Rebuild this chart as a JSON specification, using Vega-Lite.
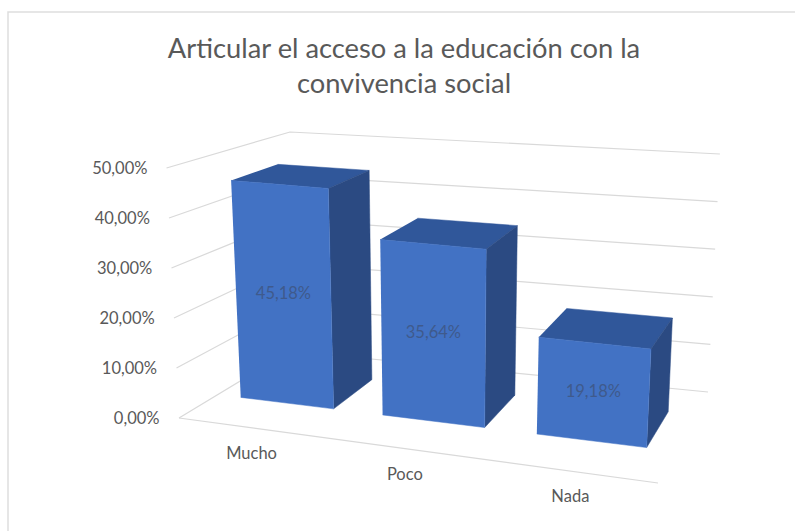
{"$schema":"https://vega.github.io/schema/vega-lite/v6.json","autosize":{"type":"none"},"padding":{"left":8,"top":12,"right":0,"bottom":0},"width":800,"height":530,"background":"white","view":{"stroke":"#DEDEDE","strokeWidth":1.5,"fill":"white"},"title":{"text":["Articular el acceso a la educación con la","convivencia social"],"font":"Lato","fontSize":27.3,"fontWeight":"normal","color":"#595959","anchor":"middle","offset":-86,"dx":-4,"lineHeight":35},"datasets":{"bars":[{"category":"Mucho","value":45.18},{"category":"Poco","value":35.64},{"category":"Nada","value":19.18}],"ticks":[{"value":0},{"value":10},{"value":20},{"value":30},{"value":40},{"value":50}]},"encoding":{"x":{"field":"px","type":"quantitative","scale":{"domain":[8,808],"nice":false,"zero":false},"axis":null},"y":{"field":"elev","type":"quantitative","scale":{"domain":[-24.8,81.2],"nice":false,"zero":false},"axis":{"title":null,"values":[0,10,20,30,40,50],"offset":-155,"labelPadding":4,"ticks":false,"domain":false,"grid":false,"labelFont":"Lato","labelFontSize":16.5,"labelColor":"#595959","labelExpr":"replace(format(datum.value,'.2f'),'.',',')+'%'","encoding":{"labels":{"dx":{"value":{"expr":"-0.24*datum.value"}}}}}}},"layer":[{"data":{"name":"ticks"},"transform":[{"calculate":"[0,0,1]","as":"vu"},{"calculate":"[0,1,1]","as":"vw"},{"calculate":"[1,1,1]","as":"vt"},{"calculate":"[0,1,2]","as":"idx"},{"flatten":["vu","vw","vt","idx"]},{"calculate":"(5+0.38*datum.vu-0.62*datum.vw)*datum.value*datum.vt","as":"H"},{"calculate":"179+479*datum.vu+datum.vw*(111-61*datum.vu)+(-0.05+0.1*datum.vu+0.05*pow(datum.vw,4)*(1-datum.vu))*datum.H","as":"px"},{"calculate":"(datum.vw*(67+24*datum.vu)-65*datum.vu+datum.H)/5","as":"elev"}],"mark":{"type":"line","stroke":"#D9D9D9","strokeWidth":1.2},"encoding":{"detail":{"field":"value"},"order":{"field":"idx"}}},{"data":{"name":"ticks"},"transform":[{"filter":"datum.value==0"},{"calculate":"[0,1]","as":"vu"},{"calculate":"[0,0]","as":"vw"},{"calculate":"[1,1]","as":"vt"},{"calculate":"[0,1]","as":"idx"},{"flatten":["vu","vw","vt","idx"]},{"calculate":"(5+0.38*datum.vu-0.62*datum.vw)*datum.value*datum.vt","as":"H"},{"calculate":"179+479*datum.vu+datum.vw*(111-61*datum.vu)+(-0.05+0.1*datum.vu+0.05*pow(datum.vw,4)*(1-datum.vu))*datum.H","as":"px"},{"calculate":"(datum.vw*(67+24*datum.vu)-65*datum.vu+datum.H)/5","as":"elev"}],"mark":{"type":"line","stroke":"#D9D9D9","strokeWidth":1.2},"encoding":{"order":{"field":"idx"}}},{"data":{"name":"bars"},"transform":[{"calculate":"indexof(['Mucho','Poco','Nada'],datum.category)","as":"i"},{"calculate":"[0.05,0.36,0.697][datum.i]","as":"u0"},{"calculate":"[0.253,0.583,0.937][datum.i]","as":"u1"},{"calculate":"[datum.u0,datum.u1,datum.u1,datum.u0]","as":"vu"},{"calculate":"[0.35,0.35,0.75,0.75]","as":"vw"},{"calculate":"[1,1,1,1]","as":"vt"},{"calculate":"[0,1,2,3]","as":"idx"},{"flatten":["vu","vw","vt","idx"]},{"calculate":"(5+0.38*datum.vu-0.62*datum.vw)*datum.value*datum.vt","as":"H"},{"calculate":"179+479*datum.vu+datum.vw*(111-61*datum.vu)+(-0.05+0.1*datum.vu+0.05*pow(datum.vw,4)*(1-datum.vu))*datum.H","as":"px"},{"calculate":"(datum.vw*(67+24*datum.vu)-65*datum.vu+datum.H)/5","as":"elev"}],"mark":{"type":"line","fill":"#30579A","stroke":"#30579A","strokeWidth":0.5},"encoding":{"detail":{"field":"category"},"order":{"field":"idx"}}},{"data":{"name":"bars"},"transform":[{"calculate":"indexof(['Mucho','Poco','Nada'],datum.category)","as":"i"},{"calculate":"[0.253,0.583,0.937][datum.i]","as":"u1"},{"calculate":"[datum.u1,datum.u1,datum.u1,datum.u1]","as":"vu"},{"calculate":"[0.35,0.75,0.75,0.35]","as":"vw"},{"calculate":"[1,1,0,0]","as":"vt"},{"calculate":"[0,1,2,3]","as":"idx"},{"flatten":["vu","vw","vt","idx"]},{"calculate":"(5+0.38*datum.vu-0.62*datum.vw)*datum.value*datum.vt","as":"H"},{"calculate":"179+479*datum.vu+datum.vw*(111-61*datum.vu)+(-0.05+0.1*datum.vu+0.05*pow(datum.vw,4)*(1-datum.vu))*datum.H","as":"px"},{"calculate":"(datum.vw*(67+24*datum.vu)-65*datum.vu+datum.H)/5","as":"elev"}],"mark":{"type":"line","fill":"#2B4A82","stroke":"#2B4A82","strokeWidth":0.5},"encoding":{"detail":{"field":"category"},"order":{"field":"idx"}}},{"data":{"name":"bars"},"transform":[{"calculate":"indexof(['Mucho','Poco','Nada'],datum.category)","as":"i"},{"calculate":"[0.05,0.36,0.697][datum.i]","as":"u0"},{"calculate":"[0.253,0.583,0.937][datum.i]","as":"u1"},{"calculate":"[datum.u0,datum.u1,datum.u1,datum.u0]","as":"vu"},{"calculate":"[0.35,0.35,0.35,0.35]","as":"vw"},{"calculate":"[1,1,0,0]","as":"vt"},{"calculate":"[0,1,2,3]","as":"idx"},{"flatten":["vu","vw","vt","idx"]},{"calculate":"(5+0.38*datum.vu-0.62*datum.vw)*datum.value*datum.vt","as":"H"},{"calculate":"179+479*datum.vu+datum.vw*(111-61*datum.vu)+(-0.05+0.1*datum.vu+0.05*pow(datum.vw,4)*(1-datum.vu))*datum.H","as":"px"},{"calculate":"(datum.vw*(67+24*datum.vu)-65*datum.vu+datum.H)/5","as":"elev"}],"mark":{"type":"line","fill":"#4272C4","stroke":"#4272C4","strokeWidth":0.5},"encoding":{"detail":{"field":"category"},"order":{"field":"idx"}}},{"data":{"name":"bars"},"transform":[{"calculate":"indexof(['Mucho','Poco','Nada'],datum.category)","as":"i"},{"calculate":"([0.05,0.36,0.697][datum.i]+[0.253,0.583,0.937][datum.i])/2","as":"vu"},{"calculate":"0.35","as":"vw"},{"calculate":"0.5","as":"vt"},{"calculate":"(5+0.38*datum.vu-0.62*datum.vw)*datum.value*datum.vt","as":"H"},{"calculate":"179+479*datum.vu+datum.vw*(111-61*datum.vu)+(-0.05+0.1*datum.vu+0.05*pow(datum.vw,4)*(1-datum.vu))*datum.H","as":"px"},{"calculate":"(datum.vw*(67+24*datum.vu)-65*datum.vu+datum.H)/5","as":"elev"},{"calculate":"replace(format(datum.value,'.2f'),'.',',')+'%'","as":"label"}],"mark":{"type":"text","font":"Lato","fontSize":16.5,"color":"#3F5A8C"},"encoding":{"text":{"field":"label"}}},{"data":{"name":"bars"},"transform":[{"calculate":"indexof(['Mucho','Poco','Nada'],datum.category)","as":"i"},{"calculate":"([0.05,0.36,0.697][datum.i]+[0.253,0.583,0.937][datum.i])/2","as":"vu"},{"calculate":"0","as":"vw"},{"calculate":"0","as":"vt"},{"calculate":"(5+0.38*datum.vu-0.62*datum.vw)*datum.value*datum.vt","as":"H"},{"calculate":"179+479*datum.vu+datum.vw*(111-61*datum.vu)+(-0.05+0.1*datum.vu+0.05*pow(datum.vw,4)*(1-datum.vu))*datum.H","as":"px"},{"calculate":"(datum.vw*(67+24*datum.vu)-65*datum.vu+datum.H)/5","as":"elev"}],"mark":{"type":"text","font":"Lato","fontSize":16.5,"color":"#595959","dy":26},"encoding":{"text":{"field":"category"}}}]}
